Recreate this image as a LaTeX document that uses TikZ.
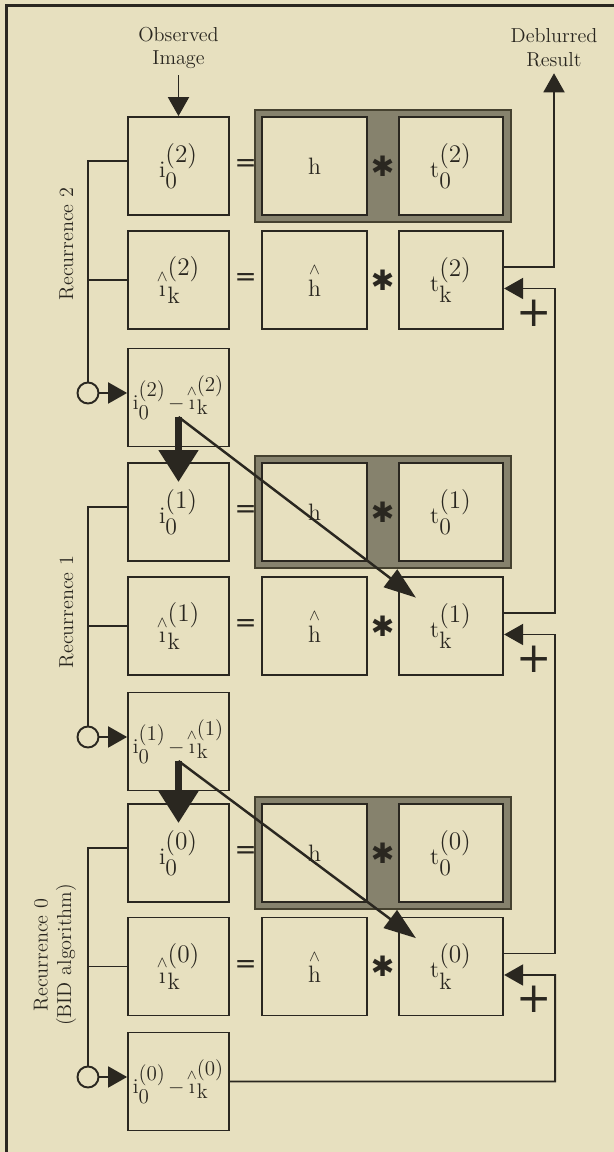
\documentclass[tikz,border=0pt]{standalone}
\usepackage{amsmath}
\usepackage{fontspec}
\newfontfamily\djv{DejaVu Sans}
\usetikzlibrary{arrows.meta,positioning,calc,backgrounds,fit}
\definecolor{paper}{HTML}{E7E0BF}
\definecolor{ink}{HTML}{2A2720}
\definecolor{bandgray}{HTML}{86826D}
\definecolor{bandedge}{HTML}{45412F}
\pgfdeclarelayer{base}
\pgfsetlayers{base,background,main}
\newcommand{\rsym}[3]{\mathrm{#1}^{\textstyle(#3)}_{\textstyle\mathrm{#2}}}
\newcommand{\est}[1]{\overset{\wedge}{#1}}
\newcommand{\dmin}{\mkern2mu{-}\mkern2mu}
\tikzset{
  >={Triangle[length=3.8mm,width=4.2mm]},
  % rutor
  bx/.style={draw=ink,fill=paper,line width=1pt,inner sep=0pt,minimum width=2.02cm,
             minimum height=1.96cm,font=\fontsize{13.5}{15}\selectfont,text=ink},
  kx/.style={bx,minimum width=2.09cm},
  dx/.style={bx,font=\fontsize{12}{14}\selectfont},
  band/.style={draw=bandedge,fill=bandgray,line width=1.2pt,inner sep=0.13cm},
  % ledningar
  wire/.style={draw=ink,line width=1.1pt},
  fb/.style={->,draw=ink,line width=1.1pt},
  big/.style={-{Triangle[length=6.4mm,width=7.6mm]},draw=ink,line width=4.4pt},
  diag/.style={-{Triangle[length=6.4mm,width=4.4mm]},draw=ink,line width=1.4pt},
  tap/.style={circle,draw=ink,fill=paper,line width=1.1pt,minimum size=4.2mm,inner sep=0pt},
  % text
  lbl/.style={font=\fontsize{11.5}{13.5}\selectfont,align=center,text=ink},
  rlbl/.style={lbl,rotate=90},
  op/.style={font=\djv\fontsize{15}{15}\selectfont,text=ink,inner sep=0pt},
  conv/.style={font=\djv\fontsize{16}{16}\selectfont,text=ink,inner sep=0pt},
  pl/.style={font=\djv\fontsize{24}{24}\selectfont,text=ink,inner sep=0pt},
}
\begin{document}
\begin{tikzpicture}
\useasboundingbox (0,0) rectangle (12.28,23.04);
\begin{pgfonlayer}{base}
  \fill[paper] (0,0) rectangle (12.28,23.04);
  \draw[ink,line width=1.3pt] (0.13,0) -- (0.13,22.93) -- (12.28,22.93);
\end{pgfonlayer}
  \node[lbl] (obs) at (3.57,22.08) {Observed\\Image};
  \node[lbl] (res) at (11.08,22.08) {Deblurred\\Result};
  % recurrence 2
  \node[bx] (o2) at (3.57,19.72) {$\rsym{i}{0}{2}$};
  \node[kx] (h2) at (6.29,19.72) {$\mathrm{h}$};
  \node[kx] (t2) at (9.02,19.72) {$\rsym{t}{0}{2}$};
  \node[bx] (e2) at (3.57,17.44) {$\rsym{\est{\text{\i}}}{k}{2}$};
  \node[kx] (g2) at (6.29,17.44) {$\est{\mathrm{h}}$};
  \node[kx] (tk2) at (9.02,17.44) {$\rsym{t}{k}{2}$};
  \node[dx] (d2) at (3.57,15.09) {$\rsym{i}{0}{2}\dmin\rsym{\est{\text{\i}}}{k}{2}$};
  % recurrence 1
  \node[bx] (o1) at (3.57,12.80) {$\rsym{i}{0}{1}$};
  \node[kx] (h1) at (6.29,12.80) {$\mathrm{h}$};
  \node[kx] (t1) at (9.02,12.80) {$\rsym{t}{0}{1}$};
  \node[bx] (e1) at (3.57,10.52) {$\rsym{\est{\text{\i}}}{k}{1}$};
  \node[kx] (g1) at (6.29,10.52) {$\est{\mathrm{h}}$};
  \node[kx] (tk1) at (9.02,10.52) {$\rsym{t}{k}{1}$};
  \node[dx] (d1) at (3.57,8.21) {$\rsym{i}{0}{1}\dmin\rsym{\est{\text{\i}}}{k}{1}$};
  % recurrence 0
  \node[bx] (o0) at (3.57,5.98) {$\rsym{i}{0}{0}$};
  \node[kx] (h0) at (6.29,5.98) {$\mathrm{h}$};
  \node[kx] (t0) at (9.02,5.98) {$\rsym{t}{0}{0}$};
  \node[bx] (e0) at (3.57,3.71) {$\rsym{\est{\text{\i}}}{k}{0}$};
  \node[kx] (g0) at (6.29,3.71) {$\est{\mathrm{h}}$};
  \node[kx] (tk0) at (9.02,3.71) {$\rsym{t}{k}{0}$};
  \node[dx] (d0) at (3.57,1.41) {$\rsym{i}{0}{0}\dmin\rsym{\est{\text{\i}}}{k}{0}$};
  \begin{scope}[on background layer]
    \node[band,fit=(h2)(t2)] (b2) {};
    \node[band,fit=(h1)(t1)] (b1) {};
    \node[band,fit=(h0)(t0)] (b0) {};
  \end{scope}
  % = och *
  \node[op] at ($(o2.east)!0.5!(h2.west)$) {=};
  \node[op] at ($(e2.east)!0.5!(g2.west)$) {=};
  \node[op] at ($(o1.east)!0.5!(h1.west)$) {=};
  \node[op] at ($(e1.east)!0.5!(g1.west)$) {=};
  \node[op] at ($(o0.east)!0.5!(h0.west)$) {=};
  \node[op] at ($(e0.east)!0.5!(g0.west)$) {=};
  \node[conv] at ($(h2.east)!0.5!(t2.west)$) {✱};
  \node[conv] at ($(g2.east)!0.5!(tk2.west)$) {✱};
  \node[conv] at ($(h1.east)!0.5!(t1.west)$) {✱};
  \node[conv] at ($(g1.east)!0.5!(tk1.west)$) {✱};
  \node[conv] at ($(h0.east)!0.5!(t0.west)$) {✱};
  \node[conv] at ($(g0.east)!0.5!(tk0.west)$) {✱};
  % vänster återkoppling
  \node[tap] (c2) at (1.76,15.18) {};
  \node[tap] (c1) at (1.76,8.30) {};
  \node[tap] (c0) at (1.76,1.50) {};
  \draw[wire] ([yshift=1mm]o2.west) -| (c2.north);
  \draw[wire] (e2.west) -- (e2.west -| c2);
  \draw[fb] (c2.east) -- (c2.east -| d2.west);
  \draw[wire] ([yshift=1mm]o1.west) -| (c1.north);
  \draw[wire] (e1.west) -- (e1.west -| c1);
  \draw[fb] (c1.east) -- (c1.east -| d1.west);
  \draw[wire] ([yshift=1mm]o0.west) -| (c0.north);
  \draw[wire] (e0.west) -- (e0.west -| c0);
  \draw[fb] (c0.east) -- (c0.east -| d0.west);
  \node[rlbl] (r2) at (1.33,18.16) {Recurrence 2};
  \node[rlbl] (r1) at (1.33,10.80) {Recurrence 1};
  \node[rlbl] (r0) at (1.10,3.94) {Recurrence 0\\(BID algorithm)};
  % in och ut
  \draw[fb] (obs.south) -- (o2.north);
  \draw[fb] ([yshift=2.6mm]tk2.east) -| (res.south);
  % höger återkoppling
  \draw[fb] ([yshift=2.6mm]tk1.east) -- ++(1.02,0) |- ([yshift=-1.7mm]tk2.east);
  \draw[fb] ([yshift=2.6mm]tk0.east) -- ++(1.02,0) |- ([yshift=-1.7mm]tk1.east);
  \draw[fb] (d0.east) -| ($(tk0.east)+(1.02,-0.17)$) -- ([yshift=-1.7mm]tk0.east);
  \node[pl] at ($(tk2.east)+(0.6,-0.66)$) {+};
  \node[pl] at ($(tk1.east)+(0.6,-0.66)$) {+};
  \node[pl] at ($(tk0.east)+(0.6,-0.66)$) {+};
  % nästa rekurrens
  \coordinate (s2) at ($(d2.center)+(0,-0.39)$);
  \coordinate (s1) at ($(d1.center)+(0,-0.39)$);
  \draw[big] (s2) -- ($(o1.north)+(0,-0.4)$);
  \draw[diag] (s2) -- ($(tk1.north west)+(0.36,-0.43)$);
  \draw[big] (s1) -- ($(o0.north)+(0,-0.4)$);
  \draw[diag] (s1) -- ($(tk0.north west)+(0.36,-0.43)$);
\end{tikzpicture}
\end{document}
